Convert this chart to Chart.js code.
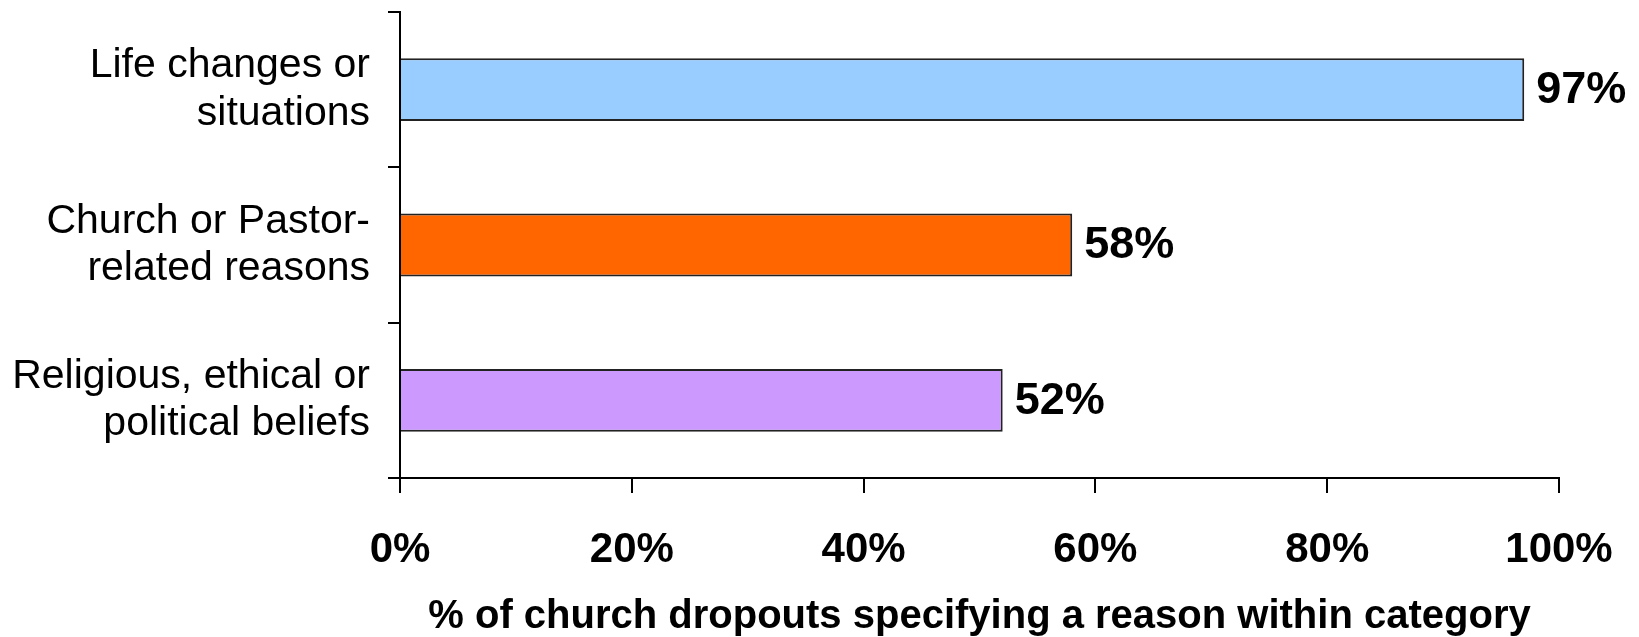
<!DOCTYPE html>
<html>
<head>
<meta charset="utf-8">
<script src="https://cdn.jsdelivr.net/npm/chart.js@4"></script>
<style>
  body { margin: 0; background: #fff; }
  canvas { display: block; }
</style>
</head>
<body>
<canvas id="myChart" width="1639" height="637"></canvas>
<script>
// data
var categories = [
  ['Life changes or', 'situations'],
  ['Church or Pastor-', 'related reasons'],
  ['Religious, ethical or', 'political beliefs']
];
var values = [97, 58, 52];
var barColors = ['#99CCFF', '#FF6600', '#CC99FF'];
var xMin = 0, xMax = 100, xStep = 20;
var axisTitle = '% of church dropouts specifying a reason within category';

var fontFamily = 'Arial, "Liberation Sans", sans-serif';

// value labels at the end of each bar
var barLabels = {
  id: 'barLabels',
  afterDatasetsDraw: function(chart) {
    var ctx = chart.ctx;
    var meta = chart.getDatasetMeta(0);
    ctx.save();
    ctx.font = 'bold 45px ' + fontFamily;
    ctx.fillStyle = '#000';
    ctx.textAlign = 'left';
    ctx.textBaseline = 'middle';
    meta.data.forEach(function(bar, i) {
      ctx.fillText(values[i] + '%', bar.x + 12, bar.y + 1);
    });
    ctx.restore();
  }
};

var ctx = document.getElementById('myChart').getContext('2d');
var myChart = new Chart(ctx, {
  type: 'bar',
  data: {
    labels: categories,
    datasets: [{
      data: values,
      backgroundColor: barColors,
      borderColor: '#222',
      borderWidth: 2,
      barPercentage: 0.405,
      categoryPercentage: 1
    }]
  },
  options: {
    indexAxis: 'y',
    responsive: false,
    animation: false,
    layout: { padding: { left: 0, right: 80, top: 12, bottom: 0 } },
    plugins: {
      legend: { display: false },
      tooltip: { enabled: false }
    },
    scales: {
      y: {
        afterFit: function(scale) {
          scale.width = 400;
          scale.paddingTop = 0;
          scale.paddingBottom = 0;
        },
        grid: { offset: true, drawOnChartArea: false, tickLength: 12, color: '#000', lineWidth: 2 },
        border: { color: '#000', width: 2 },
        ticks: {
          color: '#000',
          padding: 18,
          font: { family: fontFamily, size: 41, lineHeight: 1.15 }
        }
      },
      x: {
        min: xMin,
        max: xMax,
        afterFit: function(scale) {
          scale.height = 159;
          scale.paddingLeft = 0;
          scale.paddingRight = 0;
        },
        grid: { drawOnChartArea: false, tickLength: 15, color: '#000', lineWidth: 2 },
        border: { color: '#000', width: 2 },
        ticks: {
          stepSize: xStep,
          color: '#000',
          padding: 32,
          font: { family: fontFamily, size: 42, weight: 'bold' },
          callback: function(v) { return v + '%'; }
        },
        title: {
          display: true,
          text: axisTitle,
          color: '#000',
          padding: { top: 0, bottom: 0 },
          font: { family: fontFamily, size: 40, weight: 'bold', lineHeight: 1 }
        }
      }
    }
  },
  plugins: [barLabels]
});
</script>
</body>
</html>
